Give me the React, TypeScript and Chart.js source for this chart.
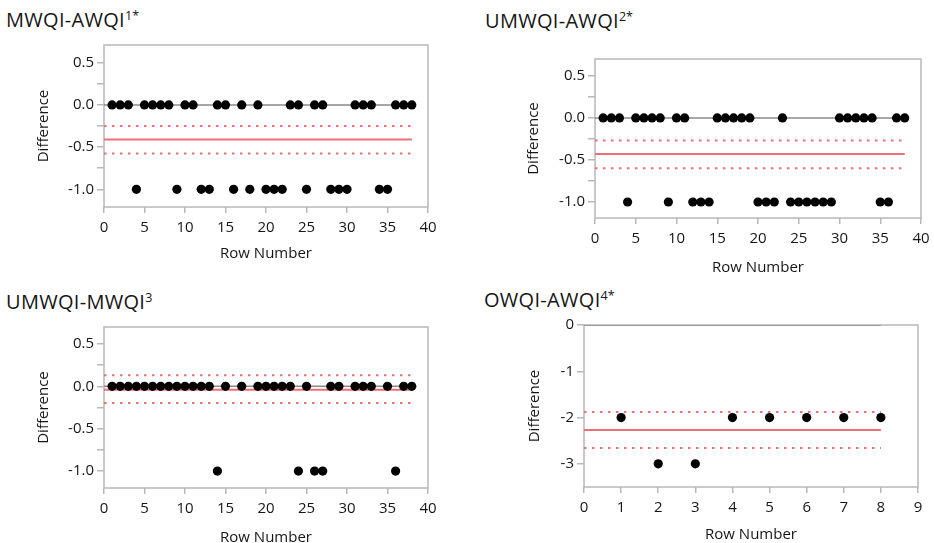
import React, { useEffect, useRef } from 'react';
import { Chart, registerables } from 'chart.js';
Chart.register(...registerables);

// ---------- DATA ----------
const rows38 = [1, 2, 3, 4, 5, 6, 7, 8, 9, 10, 11, 12, 13, 14, 15, 16, 17, 18, 19, 20, 21, 22, 23, 24, 25, 26, 27, 28, 29, 30, 31, 32, 33, 34, 35, 36, 37, 38];

const p1Diff = [
  0, 0, 0, -1, 0, 0, 0, 0, -1, 0,
  0, -1, -1, 0, 0, -1, 0, -1, 0, -1,
  -1, -1, 0, 0, -1, 0, 0, -1, -1, -1,
  0, 0, 0, -1, -1, 0, 0, 0,
];
const p1Stats = [-0.41, -0.25, -0.575]; // mean, upper, lower

const p2Diff = [
  0, 0, 0, -1, 0, 0, 0, 0, -1, 0,
  0, -1, -1, -1, 0, 0, 0, 0, 0, -1,
  -1, -1, 0, -1, -1, -1, -1, -1, -1, 0,
  0, 0, 0, 0, -1, -1, 0, 0,
];
const p2Stats = [-0.43, -0.27, -0.6];

const p3Rows = [1, 2, 3, 4, 5, 6, 7, 8, 9, 10, 11, 12, 13, 14, 15, 17, 19, 20, 21, 22, 23, 24, 25, 26, 27, 28, 29, 31, 32, 33, 35, 36, 37, 38];
const p3Diff = [0, 0, 0, 0, 0, 0, 0, 0, 0, 0, 0, 0, 0, -1, 0, 0, 0, 0, 0, 0, 0, -1, 0, -1, -1, 0, 0, 0, 0, 0, 0, -1, 0, 0];
const p3Stats = [-0.04, 0.13, -0.196];

const p4Rows = [1, 2, 3, 4, 5, 6, 7, 8];
const p4Diff = [-2, -3, -3, -2, -2, -2, -2, -2];
const p4Stats = [-2.27, -1.88, -2.66];

const titles = [
  { main: 'MWQI-AWQI', sup: '1*' },
  { main: 'UMWQI-AWQI', sup: '2*' },
  { main: 'UMWQI-MWQI', sup: '3' },
  { main: 'OWQI-AWQI', sup: '4*' },
];

// tick values (minor ticks unlabeled)
const yTicksDiff = [-1, -0.75, -0.5, -0.25, 0, 0.25, 0.5];
const yLabelsDiff = [-1, -0.5, 0, 0.5];
const yTicksP4 = [-3, -2, -1, 0];
const yLabelsP4 = [-3, -2, -1, 0];

const xLimits38 = [0, 40];
const xLimits8 = [0, 9];

// ---------- STYLE ----------
const FONT = '"Open Sans", "Noto Sans", sans-serif';
const TEXT = '#161616';
const RED = '#ef6e77';
const FRAME = '#b8b8b8';

const framePlugin = {
  id: 'frame',
  beforeDatasetsDraw(chart: any) {
    const { ctx, chartArea: a } = chart;
    ctx.save();
    ctx.strokeStyle = FRAME;
    ctx.lineWidth = 1.5;
    ctx.strokeRect(a.left, a.top, a.right - a.left, a.bottom - a.top);
    ctx.restore();
  },
};

type PanelProps = {
  rows: number[];
  diffs: number[];
  stats: number[];
  lineEnd: number;
  xRange: number[];
  xStep: number;
  yRange: number[];
  yTicks: number[];
  yLabels: number[];
  yDecimals: number;
  plotL: number; plotR: number; plotT: number; plotB: number;
  yW: number; xH: number;
};

function Panel(p: PanelProps) {
  const ref = useRef<HTMLCanvasElement>(null);
  const padTop = 12, padRight = 18;
  const width = p.yW + (p.plotR - p.plotL) + padRight;
  const height = padTop + (p.plotB - p.plotT) + p.xH;
  const left = p.plotL - p.yW;
  const top = p.plotT - padTop;

  useEffect(() => {
    const [mean, upper, lower] = p.stats;
    const seg = (y: number) => [{ x: 0, y }, { x: p.lineEnd, y }];
    const chart = new Chart(ref.current as HTMLCanvasElement, {
      type: 'scatter',
      data: {
        datasets: [
          {
            data: p.rows.map((r, i) => ({ x: r, y: p.diffs[i] })),
            backgroundColor: '#000',
            borderColor: '#000',
            borderWidth: 0,
            pointRadius: 4.6,
            pointHoverRadius: 4.6,
            showLine: false,
          },
          { data: seg(0), showLine: true, borderColor: '#8a8a8a', borderWidth: 1.5, pointRadius: 0 },
          { data: seg(mean), showLine: true, borderColor: RED, borderWidth: 2, pointRadius: 0 },
          { data: seg(upper), showLine: true, borderColor: RED, borderWidth: 2, borderDash: [2.5, 5.5], pointRadius: 0 },
          { data: seg(lower), showLine: true, borderColor: RED, borderWidth: 2, borderDash: [2.5, 5.5], pointRadius: 0 },
        ] as any,
      },
      options: {
        animation: false,
        responsive: false,
        devicePixelRatio: 1,
        layout: { padding: { top: padTop, right: padRight, left: 0, bottom: 0 } },
        plugins: { legend: { display: false }, tooltip: { enabled: false } },
        scales: {
          x: {
            type: 'linear',
            min: p.xRange[0],
            max: p.xRange[1],
            border: { display: false },
            grid: { drawOnChartArea: false, drawTicks: true, tickLength: 6, color: FRAME, lineWidth: 1.5 },
            ticks: { stepSize: p.xStep, color: TEXT, font: { family: FONT, size: 15 }, padding: 6, maxRotation: 0 },
            title: { display: true, text: 'Row Number', color: TEXT, font: { family: FONT, size: 15 } },
            afterFit: (s: any) => { s.height = p.xH; },
          },
          y: {
            type: 'linear',
            min: p.yRange[0],
            max: p.yRange[1],
            border: { display: false },
            grid: { drawOnChartArea: false, drawTicks: true, tickLength: 7, color: FRAME, lineWidth: 1.5 },
            ticks: {
              color: TEXT,
              font: { family: FONT, size: 15 },
              padding: 3,
              autoSkip: false,
              callback: (v: any) => {
                const isLabel = p.yLabels.some((l) => Math.abs(l - v) < 1e-6);
                return isLabel ? Number(v).toFixed(p.yDecimals) : '';
              },
            },
            afterBuildTicks: (s: any) => {
              s.ticks = p.yTicks.map((v) => ({ value: v }));
            },
            title: { display: true, text: 'Difference', color: TEXT, font: { family: FONT, size: 15 } },
            afterFit: (s: any) => { s.width = p.yW; },
          },
        },
      } as any,
      plugins: [framePlugin],
    });
    return () => chart.destroy();
  }, []);

  return (
    <div style={{ position: 'absolute', left, top, width, height }}>
      <canvas ref={ref} width={width} height={height} style={{ width, height, display: 'block' }} />
    </div>
  );
}

function Title({ idx, left, top }: { idx: number; left: number; top: number }) {
  const t = titles[idx];
  return (
    <div style={{ position: 'absolute', left, top, fontFamily: FONT, fontSize: 20, lineHeight: '20px', color: TEXT, whiteSpace: 'nowrap', letterSpacing: 0.3 }}>
      {t.main}
      <span style={{ fontSize: 12.5, position: 'relative', top: -7, letterSpacing: 0 }}>{t.sup}</span>
    </div>
  );
}

export default function App() {
  return (
    <div style={{ position: 'absolute', left: 0, top: 0, width: 934, height: 543, overflow: 'hidden', background: '#fff' }}>
      <Title idx={0} left={6} top={10} />
      <Title idx={1} left={485} top={11} />
      <Title idx={2} left={6} top={292} />
      <Title idx={3} left={484} top={290} />
      <Panel rows={rows38} diffs={p1Diff} stats={p1Stats} lineEnd={38} xRange={xLimits38} xStep={5}
        yRange={[-1.21, 0.71]} yTicks={yTicksDiff} yLabels={yLabelsDiff} yDecimals={1}
        plotL={104} plotR={428} plotT={45} plotB={207} yW={73} xH={60} />
      <Panel rows={rows38} diffs={p2Diff} stats={p2Stats} lineEnd={38} xRange={xLimits38} xStep={5}
        yRange={[-1.19, 0.70]} yTicks={yTicksDiff} yLabels={yLabelsDiff} yDecimals={1}
        plotL={595} plotR={921} plotT={59} plotB={218} yW={74} xH={63} />
      <Panel rows={p3Rows} diffs={p3Diff} stats={p3Stats} lineEnd={38} xRange={xLimits38} xStep={5}
        yRange={[-1.20, 0.70]} yTicks={yTicksDiff} yLabels={yLabelsDiff} yDecimals={1}
        plotL={104} plotR={428} plotT={327} plotB={488} yW={73} xH={63} />
      <Panel rows={p4Rows} diffs={p4Diff} stats={p4Stats} lineEnd={8} xRange={xLimits8} xStep={1}
        yRange={[-3.5, 0]} yTicks={yTicksP4} yLabels={yLabelsP4} yDecimals={0}
        plotL={584} plotR={918} plotT={325} plotB={487} yW={62} xH={61} />
    </div>
  );
}
